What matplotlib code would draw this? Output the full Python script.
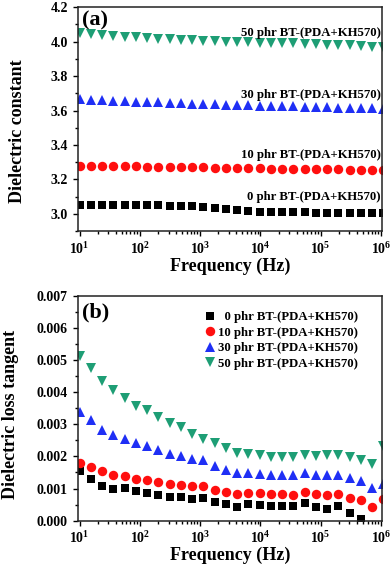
import math
import matplotlib
matplotlib.use("Agg")
import matplotlib.pyplot as plt
from matplotlib.ticker import MultipleLocator, FormatStrFormatter, FuncFormatter, LogLocator

plt.rcParams['font.family'] = 'Liberation Serif'
plt.rcParams['font.weight'] = 'bold'
plt.rcParams['axes.labelweight'] = 'bold'
plt.rcParams['mathtext.fontset'] = 'custom'
plt.rcParams['mathtext.bf'] = 'Liberation Serif:bold'
plt.rcParams['mathtext.rm'] = 'Liberation Serif:bold'

# frequency points (Hz)
freq = [10, 15.4, 23.6, 36.3, 55.8, 85.8, 132, 203, 312, 479, 736, 1130, 1740, 2670,
        4110, 6320, 9710, 14900, 22900, 35300, 54200, 83300, 128000, 197000, 303000,
        465000, 715000, 1100000]

labels = ['0 phr BT-(PDA+KH570)', '10 phr BT-(PDA+KH570)',
          '30 phr BT-(PDA+KH570)', '50 phr BT-(PDA+KH570)']

# dielectric constant
eps_0 = [3.052, 3.052, 3.051, 3.051, 3.05, 3.05, 3.049, 3.049, 3.047, 3.046, 3.044, 3.041,
         3.036, 3.03, 3.02, 3.014, 3.011, 3.01, 3.009, 3.008, 3.008, 3.007, 3.007, 3.006,
         3.006, 3.005, 3.005, 3.004]
eps_10 = [3.28, 3.279, 3.278, 3.277, 3.276, 3.275, 3.274, 3.273, 3.272, 3.271, 3.27, 3.269,
          3.268, 3.267, 3.266, 3.265, 3.264, 3.263, 3.262, 3.261, 3.26, 3.26, 3.259, 3.258,
          3.257, 3.256, 3.255, 3.254]
eps_30 = [3.665, 3.662, 3.66, 3.657, 3.655, 3.652, 3.65, 3.647, 3.645, 3.642, 3.64, 3.638,
          3.636, 3.634, 3.632, 3.63, 3.628, 3.627, 3.625, 3.624, 3.622, 3.62, 3.619, 3.617,
          3.616, 3.614, 3.612, 3.61]
eps_50 = [4.05, 4.045, 4.04, 4.035, 4.03, 4.025, 4.02, 4.017, 4.013, 4.01, 4.008, 4.005,
          4.003, 4.0, 4.0, 3.997, 3.995, 3.993, 3.99, 3.99, 3.988, 3.985, 3.983, 3.98,
          3.978, 3.975, 3.972, 3.968]

# dielectric loss tangent
tan_0 = [0.00154, 0.00131, 0.00109, 0.00099, 0.00102, 0.00091, 0.00086, 0.00081, 0.00073,
         0.00073, 0.00068, 0.00070, 0.00058, 0.00052, 0.00044, 0.00051, 0.00049, 0.00047,
         0.00047, 0.00046, 0.00055, 0.00044, 0.00037, 0.00047, 0.00023, 0.00005, -0.0005,
         -0.0005]
tan_10 = [0.00180, 0.00167, 0.00154, 0.00142, 0.00139, 0.00131, 0.00125, 0.00120, 0.00115,
          0.00112, 0.00107, 0.00107, 0.00094, 0.00088, 0.00084, 0.00086, 0.00086, 0.00083,
          0.00083, 0.00081, 0.00089, 0.00083, 0.00081, 0.00084, 0.00072, 0.00065, 0.00044,
          0.00068]
tan_30 = [0.00338, 0.00312, 0.00283, 0.00267, 0.00254, 0.00243, 0.00233, 0.00219, 0.00207,
          0.00201, 0.00193, 0.00188, 0.00170, 0.00159, 0.00149, 0.00147, 0.00144, 0.00142,
          0.00142, 0.00142, 0.00147, 0.00142, 0.00142, 0.00142, 0.00133, 0.00123, 0.00102,
          0.00115]
tan_50 = [0.00511, 0.00474, 0.00435, 0.00408, 0.00382, 0.00356, 0.00343, 0.00322, 0.00303,
          0.00291, 0.00270, 0.00254, 0.00241, 0.00226, 0.00212, 0.00207, 0.00204, 0.00198,
          0.00198, 0.00198, 0.00204, 0.00201, 0.00204, 0.00204, 0.00198, 0.00188, 0.00177,
          0.00231]

colors = ['black', '#ff0f0f', '#1f2ff5', '#1e9e75']
markers = ['s', 'o', '^', 'v']
sizes = [6, 6.8, 7.2, 7.2]

fig = plt.figure(figsize=(3.92, 5.74), dpi=100)
ax1 = fig.add_axes([0.198, 0.5976, 0.7765, 0.3897])
ax2 = fig.add_axes([0.198, 0.0929, 0.7765, 0.392])


def style(ax):
    ax.set_xscale('log')
    ax.set_xlim(9.3, 1.04e6)
    ax.xaxis.set_major_locator(LogLocator(base=10, numticks=10))
    ax.xaxis.set_minor_locator(LogLocator(base=10, subs=range(2, 10), numticks=20))
    ax.xaxis.set_major_formatter(FuncFormatter(lambda v, p: r'$\mathbf{10^{%d}}$' % round(math.log10(v))))
    ax.tick_params(which='both', direction='out', top=False, right=False, labelsize=10, width=1)
    ax.tick_params(which='major', length=3.5)
    ax.tick_params(which='minor', length=2)
    for s in ax.spines.values():
        s.set_linewidth(1.1)
        s.set_color('#222222')
    ax.set_xlabel('Frequency (Hz)', fontsize=13)
    ax.xaxis.label.set_va('center')


# panel (a)
style(ax1)
for y, c, m, ms in zip([eps_0, eps_10, eps_30, eps_50], colors, markers, sizes):
    ax1.plot(freq, y, ls='none', marker=m, ms=ms, color=c, mew=0)
ax1.set_ylim(2.9, 4.2)
ax1.yaxis.set_major_locator(MultipleLocator(0.2))
ax1.yaxis.set_minor_locator(MultipleLocator(0.1))
ax1.yaxis.set_major_formatter(FormatStrFormatter('%.1f'))
ax1.set_ylabel('Dielectric constant', fontsize=13)
ax1.yaxis.label.set_va('center')
ax1.yaxis.set_label_coords(-0.196, 0.444)
ax1.xaxis.set_label_coords(0.5, -0.158)
for y, lab in zip([3.097, 3.34, 3.693, 4.049], labels):
    ax1.text(0.995, y, lab, transform=ax1.get_yaxis_transform(), ha='right', va='center',
             fontsize=9.2, fontweight='bold')
ax1.text(0.058, 0.94, '(a)', transform=ax1.transAxes, ha='center', va='center',
         fontsize=16, fontweight='bold')

# panel (b)
style(ax2)
for y, c, m, ms, lab in zip([tan_0, tan_10, tan_30, tan_50], colors, markers, sizes, labels):
    if lab.startswith('0 '):
        lab = '  ' + lab
    ax2.plot(freq, y, ls='none', marker=m, ms=ms, color=c, mew=0, label=lab)
ax2.set_ylim(0, 0.007)
ax2.yaxis.set_major_locator(MultipleLocator(0.001))
ax2.yaxis.set_minor_locator(MultipleLocator(0.0005))
ax2.yaxis.set_major_formatter(FormatStrFormatter('%.3f'))
ax2.set_ylabel('Dielectric loss tangent', fontsize=13)
ax2.yaxis.label.set_va('center')
ax2.yaxis.set_label_coords(-0.22, 0.47)
ax2.xaxis.set_label_coords(0.5, -0.152)
ax2.text(0.058, 0.926, '(b)', transform=ax2.transAxes, ha='center', va='center',
         fontsize=16, fontweight='bold')
ax2.legend(loc='upper right', bbox_to_anchor=(0.921, 0.93), frameon=False, borderpad=0,
           borderaxespad=0, handlelength=0.8, handletextpad=0.2, labelspacing=0.27,
           numpoints=1, prop={'size': 9.2, 'weight': 'bold'})

fig.savefig('out.png', dpi=100)
